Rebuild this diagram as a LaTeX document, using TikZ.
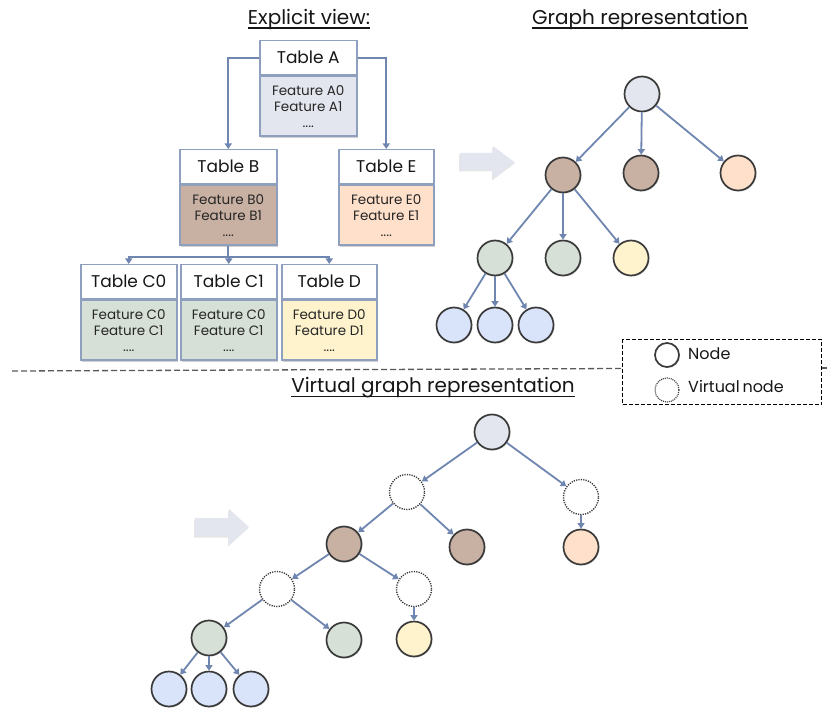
\documentclass[tikz,border=0pt]{standalone}
\usepackage{fontspec}
\setmainfont{Poppins}
\usetikzlibrary{arrows.meta,shadows}
\definecolor{edgeblue}{HTML}{6E86B0}
\definecolor{tborder}{HTML}{8FA0BF}
\definecolor{ringcol}{HTML}{3A3A3A}
\definecolor{cA}{HTML}{E3E6EE}
\definecolor{cB}{HTML}{C8B0A2}
\definecolor{cE}{HTML}{FFE0CA}
\definecolor{cC}{HTML}{D7E0D6}
\definecolor{cD}{HTML}{FFF3CE}
\definecolor{cL}{HTML}{D9E4FB}
\definecolor{txt}{HTML}{161616}
\tikzset{
  softshadow/.style={drop shadow={shadow xshift=1.5pt,shadow yshift=-1.5pt,opacity=0.3,fill=black!60}},
  thead/.style={draw=tborder,line width=1.5pt,fill=white,minimum height=34pt,inner sep=0pt,
    font=\fontsize{17}{20}\selectfont,text=txt,softshadow},
  tbody/.style={draw=tborder,line width=1.5pt,minimum height=60pt,inner sep=0pt,align=center,
    font=\fontsize{13.5}{16}\selectfont,text=black!85,softshadow},
  link/.style={draw=edgeblue,line width=1.8pt,-{Triangle[width=7pt,length=5.5pt]}},
  gnode/.style={circle,draw=ringcol,line width=1.7pt,minimum size=35pt,inner sep=0pt,
    drop shadow={shadow xshift=1pt,shadow yshift=-1pt,opacity=0.25,fill=black!60}},
  vnode/.style={circle,draw=ringcol,line width=1.4pt,dash pattern=on 1.2pt off 1.2pt,fill=white,minimum size=35pt,inner sep=0pt},
  title/.style={font=\fontsize{20}{24}\selectfont,text=txt,inner sep=0pt},
  fatarrow/.style={fill=cA,drop shadow={shadow xshift=-1pt,shadow yshift=-1.5pt,opacity=0.2,fill=black!50}},
}
% table: name, left x, top y, width, title, body colour, body text
\newcommand\dbtable[7]{%
  \node[thead,minimum width=#4pt,anchor=north west] (#1h) at (#2,#3) {#5};
  \node[tbody,minimum width=#4pt,fill=#6,anchor=north] (#1b) at (#1h.south) {#7};
}
\begin{document}
\begin{tikzpicture}[x=1pt,y=-1pt]
\useasboundingbox (0,0) rectangle (827,708);

% ---------- titles ----------
\node[title] (t1) at (309,19) {Explicit view:};
\node[title] (t2) at (640,19) {Graph representation};
\node[title] (t3) at (433,388) {Virtual graph representation};
\foreach \t in {t1,t2,t3}
  \draw[txt,line width=1.1pt] ([yshift=-4pt]\t.base west) -- ([yshift=-4pt]\t.base east);

% ---------- explicit tables ----------
\dbtable{A}{259}{40}{97}{Table A}{cA}{Feature A0\\Feature A1\\....}
\dbtable{B}{179}{149}{97}{Table B}{cB}{Feature B0\\Feature B1\\....}
\dbtable{E}{338}{149}{95}{Table E}{cE}{Feature E0\\Feature E1\\....}
\dbtable{Cz}{80}{264}{96}{Table C0}{cC}{Feature C0\\Feature C1\\....}
\dbtable{Co}{180}{264}{96}{Table C1}{cC}{Feature C0\\Feature C1\\....}
\dbtable{D}{281}{264}{95}{Table D}{cD}{Feature D0\\Feature D1\\....}

\draw[link] (Ah.west) -| (Bh.north);
\draw[link] (Ah.east) -| (Eh.north);
\coordinate (split) at ([yshift=-11pt]Bb.south);
\draw[link] (Bb.south) -- (split) -| (Czh.north);
\draw[link] (split) -| (Coh.north);
\draw[link] (split) -| (Dh.north);

% ---------- block arrows ----------
\fill[fatarrow] (460,153) -- (493,153) -- (493,146) -- (515,162.5) -- (493,179) -- (493,170) -- (460,170) -- cycle;
\fill[fatarrow] (195,518) -- (229,518) -- (229,509) -- (249,527) -- (229,545) -- (229,536) -- (195,536) -- cycle;

% ---------- graph representation ----------
\node[gnode,fill=cA] (r) at (642,94) {};
\node[gnode,fill=cB] (g1) at (563,175) {};
\node[gnode,fill=cB] (g2) at (641,173) {};
\node[gnode,fill=cE] (g3) at (738,173) {};
\node[gnode,fill=cC] (h1) at (495,258) {};
\node[gnode,fill=cC] (h2) at (563,258) {};
\node[gnode,fill=cD] (h3) at (631,258) {};
\node[gnode,fill=cL] (l1) at (454,325) {};
\node[gnode,fill=cL] (l2) at (495,325) {};
\node[gnode,fill=cL] (l3) at (536,325) {};
\foreach \a/\b in {r/g1,r/g2,r/g3,g1/h1,g1/h2,g1/h3,h1/l1,h1/l2,h1/l3}
  \draw[link] (\a) -- (\b);

% ---------- separator and legend ----------
\node[draw=black,dash pattern=on 4pt off 2pt,line width=1.2pt,minimum width=199pt,minimum height=65pt,anchor=north west,inner sep=0pt] (legend) at (622,339) {};
\draw[black!65,dash pattern=on 6pt off 3pt,line width=1.3pt] (12,371) -- (legend.west |- 0,368.5);
\draw[black!65,dash pattern=on 6pt off 3pt,line width=1.3pt] (legend.east |- 0,368) -- (827,368);
\node[circle,draw=ringcol,fill=white,line width=1.7pt,minimum size=24pt,inner sep=0pt,
  drop shadow={shadow xshift=1pt,shadow yshift=-1pt,opacity=0.3,fill=black!60}] (lgn) at (667,355) {};
\node[circle,draw=ringcol,fill=white,line width=1.2pt,dash pattern=on 1pt off 1pt,minimum size=24pt,inner sep=0pt] (lgv) at (667,390) {};
\node[anchor=west,font=\fontsize{16}{19}\selectfont,text=txt,inner sep=0pt] (lgnt) at (688,354) {Node};
\node[anchor=west,font=\fontsize{16}{19}\selectfont,text=txt,inner sep=0pt] (lgvt) at (688,386) {Virtual\hspace{-1.5pt} node};

% ---------- virtual graph representation ----------
\node[gnode,fill=cA] (vr) at (492,432) {};
\node[vnode] (v1) at (407,492) {};
\node[vnode] (v2) at (581,497) {};
\node[gnode,fill=cB] (vb1) at (344,544) {};
\node[gnode,fill=cB] (vb2) at (467,547) {};
\node[gnode,fill=cE] (ve) at (581,547) {};
\node[vnode] (v3) at (277,589) {};
\node[vnode] (v4) at (414,589) {};
\node[gnode,fill=cC] (vc1) at (209,638) {};
\node[gnode,fill=cC] (vc2) at (344,640) {};
\node[gnode,fill=cD] (vd) at (414,639) {};
\node[gnode,fill=cL] (vl1) at (169,689) {};
\node[gnode,fill=cL] (vl2) at (209,689) {};
\node[gnode,fill=cL] (vl3) at (251,689) {};
\foreach \a/\b in {vr/v1,vr/v2,v1/vb1,v1/vb2,v2/ve,vb1/v3,vb1/v4,v3/vc1,v3/vc2,v4/vd,vc1/vl1,vc1/vl2,vc1/vl3}
  \draw[link] (\a) -- (\b);
\end{tikzpicture}
\end{document}
